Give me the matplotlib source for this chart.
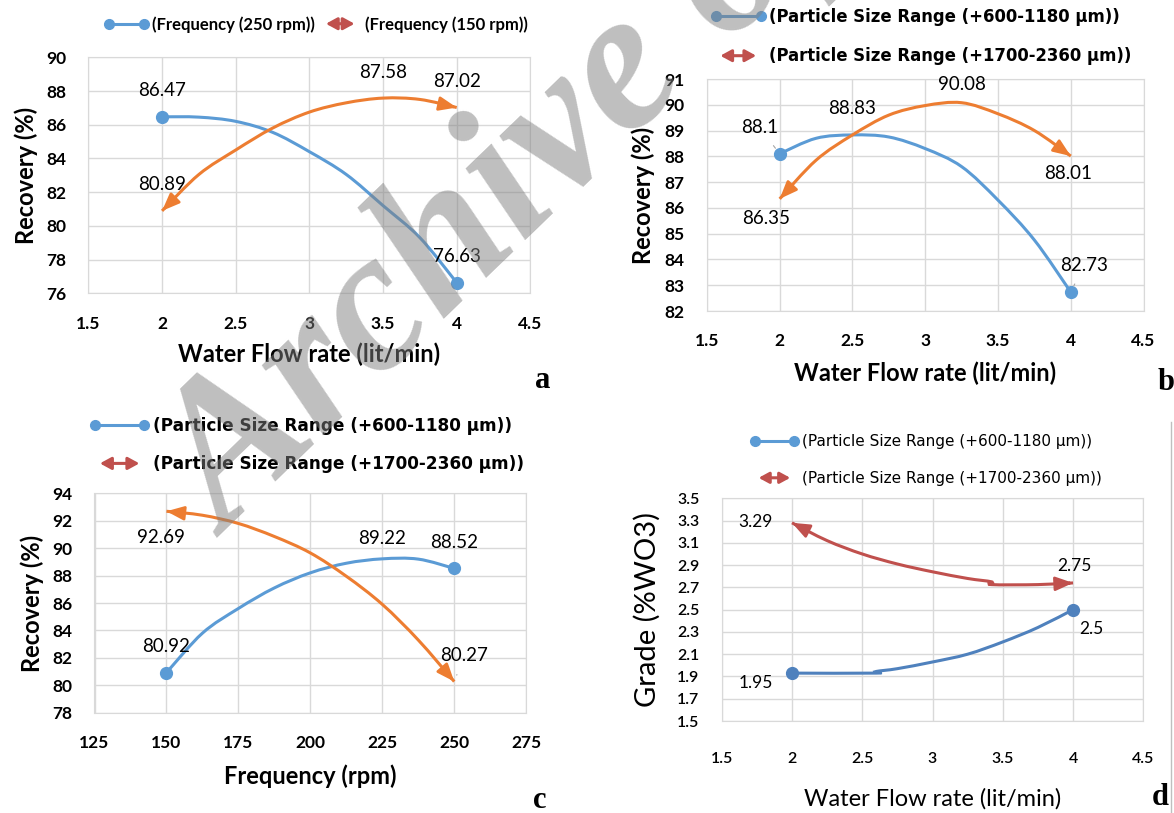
import matplotlib
matplotlib.use('Agg')
import matplotlib.pyplot as plt
from matplotlib.lines import Line2D
from matplotlib.patches import FancyArrowPatch, PathPatch
from matplotlib.path import Path
from matplotlib.legend_handler import HandlerBase

# ---- data ----
a_x = [2, 2.25, 2.5, 2.75, 3, 3.25, 3.5, 3.75, 4]
a_250 = [86.47, 86.45, 86.2, 85.55, 84.4, 83.05, 81.2, 79.3, 76.63]
a_150 = [80.89, 83.05, 84.5, 85.8, 86.75, 87.3, 87.58, 87.5, 87.02]
a_labels_250 = [(2, 86.47), (4, 76.63)]
a_labels_150 = [(2, 80.89), (3.5, 87.58), (4, 87.02)]

b_x = [2, 2.25, 2.5, 2.75, 3, 3.25, 3.5, 3.75, 4]
b_fine = [88.1, 88.7, 88.83, 88.75, 88.3, 87.6, 86.3, 84.75, 82.73]
b_coarse = [86.35, 87.85, 88.83, 89.6, 89.97, 90.08, 89.65, 89.0, 88.01]
b_labels_fine = [(2, 88.1), (2.5, 88.83), (4, 82.73)]
b_labels_coarse = [(2, 86.35), (3.25, 90.08), (4, 88.01)]

c_x = [150, 162.5, 175, 187.5, 200, 212.5, 225, 237.5, 250]
c_fine = [80.92, 83.8, 85.6, 87.1, 88.2, 88.9, 89.22, 89.2, 88.52]
c_coarse = [92.69, 92.4, 91.8, 90.85, 89.65, 87.95, 85.9, 83.3, 80.27]
c_labels_fine = [(150, 80.92), (225, 89.22), (250, 88.52)]
c_labels_coarse = [(150, 92.69), (250, 80.27)]

d_x_fine = [2, 2.6, 2.6, 2.75, 3, 3.25, 3.5, 3.75, 4]
d_fine = [1.93, 1.93, 1.945, 1.97, 2.03, 2.1, 2.21, 2.34, 2.5]
d_x_coarse = [2, 2.25, 2.5, 2.75, 3, 3.25, 3.42, 3.42, 3.75, 4]
d_coarse = [3.28, 3.12, 3.0, 2.91, 2.84, 2.78, 2.75, 2.725, 2.725, 2.74]
d_labels_fine = [(2, 1.95), (4, 2.5)]
d_labels_coarse = [(2, 3.29), (4, 2.75)]

flow_ticks = [1.5, 2, 2.5, 3, 3.5, 4, 4.5]
freq_ticks = [125, 150, 175, 200, 225, 250, 275]
a_yticks = [76, 78, 80, 82, 84, 86, 88, 90]
b_yticks = [82, 83, 84, 85, 86, 87, 88, 89, 90, 91]
c_yticks = [78, 80, 82, 84, 86, 88, 90, 92, 94]
d_yticks = [1.5, 1.7, 1.9, 2.1, 2.3, 2.5, 2.7, 2.9, 3.1, 3.3, 3.5]

leg_freq = ['(Frequency (250 rpm))', '(Frequency (150 rpm))']
leg_size = ['(Particle Size Range (+600-1180 \u00b5m))',
            '(Particle Size Range (+1700-2360 \u00b5m))']

BLUE = '#5B9BD5'
BLUE_D = '#4F81BD'
ORANGE = '#ED7D31'
RED = '#C0504D'
GRID = '#D9D9D9'
FONT = 'Lato'

W, H = 1174, 813
fig = plt.figure(figsize=(W / 100, H / 100), dpi=100)


def fx(px):
    return px / W


def fy(py):
    return 1 - py / H


class HandlerDoubleArrow(HandlerBase):
    def create_artists(self, legend, orig_handle, xdescent, ydescent,
                       width, height, fontsize, trans):
        y = height / 2 - ydescent
        p = FancyArrowPatch((-xdescent + 0.12 * width, y), (-xdescent + 0.88 * width, y),
                            arrowstyle='<|-|>,head_length=0.55,head_width=0.3',
                            mutation_scale=fontsize, color=orig_handle.get_color(),
                            lw=2.2, transform=trans)
        return [p]


def make_axes(l, t, r, b, xticks, yticks, weight='bold', size=12.5):
    ax = fig.add_axes([fx(l), fy(b), fx(r) - fx(l), fy(t) - fy(b)])
    ax.grid(True, color=GRID, lw=1)
    ax.set_axisbelow(True)
    for s in ax.spines.values():
        s.set_color(GRID)
    ax.tick_params(length=0, pad=16)
    ax.set_xlim(xticks[0], xticks[-1])
    ax.set_ylim(yticks[0], yticks[-1])
    ax.set_xticks(xticks, labels=[f'{v:g}' for v in xticks],
                  fontweight=weight, family=FONT, fontsize=size)
    ax.set_yticks(yticks, labels=[f'{v:g}' for v in yticks],
                  fontweight=weight, family=FONT, fontsize=size)
    return ax


def smooth(x, y):
    # Catmull-Rom through the read points, as Bezier segments
    pts = list(zip(x, y))
    verts = [pts[0]]
    codes = [Path.MOVETO]
    n = len(pts)
    for i in range(n - 1):
        p0 = pts[max(i - 1, 0)]
        p1 = pts[i]
        p2 = pts[i + 1]
        p3 = pts[min(i + 2, n - 1)]
        c1 = (p1[0] + (p2[0] - p0[0]) / 6, p1[1] + (p2[1] - p0[1]) / 6)
        c2 = (p2[0] - (p3[0] - p1[0]) / 6, p2[1] - (p3[1] - p1[1]) / 6)
        verts += [c1, c2, p2]
        codes += [Path.CURVE4] * 3
    return Path(verts, codes)


def arrow_head(ax, tip, prev, color):
    back = (tip[0] - 0.12 * (tip[0] - prev[0]), tip[1] - 0.12 * (tip[1] - prev[1]))
    ax.annotate('', xy=tip, xytext=back,
                arrowprops=dict(arrowstyle='-|>,head_length=0.7,head_width=0.28',
                                color=color, lw=2, mutation_scale=15,
                                shrinkA=0, shrinkB=0),
                zorder=3)


def curve(ax, x, y, color, markers=True):
    ax.add_patch(PathPatch(smooth(x, y), fill=False, edgecolor=color, lw=2.2,
                           capstyle='butt', transform=ax.transData, zorder=3))
    if markers:
        ax.plot([x[0], x[-1]], [y[0], y[-1]], ls='none', marker='o',
                markersize=8.5, color=color, zorder=4)
    else:
        arrow_head(ax, (x[-1], y[-1]), (x[-2], y[-2]), color)
        arrow_head(ax, (x[0], y[0]), (x[1], y[1]), color)


def label(ax, pt, dx, dy, size=13.5, leader=False):
    x, y = pt
    kw = {}
    if leader:
        kw['arrowprops'] = dict(arrowstyle='-', color='#A6A6A6', lw=0.8,
                                shrinkA=6, shrinkB=5)
    ax.annotate(f'{y:g}', xy=(x, y), xytext=(dx, dy), textcoords='offset pixels',
                ha='center', va='center', fontsize=size, family=FONT,
                color='black', zorder=5, **kw)


def legend(ax, labels, left, top, ncol, handlelen, family, size, weight='bold',
           spacing=1.0, textpad=0.2):
    h1 = Line2D([], [], color=BLUE, lw=2.2, marker='o', markersize=7)
    h2 = Line2D([], [], color=RED)
    ax.legend([h1, h2], labels, loc='upper left',
              bbox_to_anchor=(fx(left), fy(top)), bbox_transform=fig.transFigure,
              ncol=ncol, frameon=False, numpoints=2, handlelength=handlelen,
              handletextpad=textpad, columnspacing=0.2, labelspacing=spacing,
              borderpad=0, borderaxespad=0,
              handler_map={h2: HandlerDoubleArrow()},
              prop=dict(family=family, size=size, weight=weight))


def axis_labels(ax, xl, yl, xpad=10, ypad=10, weight='bold', xsize=17, ysize=17):
    ax.set_xlabel(xl, fontsize=xsize, fontweight=weight, family=FONT, labelpad=xpad)
    ax.set_ylabel(yl, fontsize=ysize, fontweight=weight, family=FONT, labelpad=ypad)


# ---- panel a ----
ax = make_axes(88.4, 57.3, 530.4, 293.3, flow_ticks, a_yticks)
curve(ax, a_x, a_250, BLUE)
curve(ax, a_x, a_150, ORANGE, markers=False)
for p in a_labels_250 + a_labels_150:
    label(ax, p, 0, 26)
axis_labels(ax, 'Water Flow rate (lit/min)', 'Recovery (%)', xpad=8, ypad=6)
legend(ax, leg_freq, 104, 16, 2, 2.7, FONT, 12, textpad=0.15)

# ---- panel b ----
ax = make_axes(706.9, 79, 1143.6, 311, flow_ticks, b_yticks)
curve(ax, b_x, b_fine, BLUE)
curve(ax, b_x, b_coarse, ORANGE, markers=False)
label(ax, b_labels_fine[0], -20, 26, leader=True)
label(ax, b_labels_fine[1], 0, 26)
label(ax, b_labels_fine[2], 13, 27, leader=True)
label(ax, b_labels_coarse[0], -14, -20)
label(ax, b_labels_coarse[1], 0, 18)
label(ax, b_labels_coarse[2], -3, -17)
axis_labels(ax, 'Water Flow rate (lit/min)', 'Recovery (%)', xpad=9, ypad=7)
legend(ax, leg_size, 711, 8, 1, 3.3, 'DejaVu Sans', 11.9, spacing=1.3)

# ---- panel c ----
ax = make_axes(94.5, 493.3, 526.2, 712.7, freq_ticks, c_yticks)
curve(ax, c_x, c_fine, BLUE)
curve(ax, c_x, c_coarse, ORANGE, markers=False)
label(ax, c_labels_fine[0], 0, 26)
label(ax, c_labels_fine[1], 0, 20)
label(ax, c_labels_fine[2], 0, 26)
label(ax, c_labels_coarse[0], -6, -26)
label(ax, c_labels_coarse[1], 10, 26, leader=True)
axis_labels(ax, 'Frequency (rpm)', 'Recovery (%)', xpad=10, ypad=6)
legend(ax, leg_size, 90, 417, 1, 3.5, 'DejaVu Sans', 12.2, spacing=1.2)

# ---- panel d ----
ax = make_axes(721.7, 498.3, 1143.3, 721, flow_ticks, d_yticks,
               weight='semibold', size=11.5)
ax.tick_params(axis='x', pad=22)
curve(ax, d_x_fine, d_fine, BLUE_D)
curve(ax, d_x_coarse, d_coarse, RED, markers=False)
label(ax, d_labels_fine[0], -36, -12, size=12.5)
label(ax, d_labels_fine[1], 18, -19, size=12.5)
label(ax, d_labels_coarse[0], -36, 0, size=12.5)
label(ax, d_labels_coarse[1], 1, 16, size=12.5)
axis_labels(ax, 'Water Flow rate (lit/min)', 'Grade (%WO3)', xpad=16, ypad=12,
            weight='normal', ysize=21)
legend(ax, leg_size, 750, 434, 1, 3.2, 'DejaVu Sans', 11, weight='normal',
       spacing=1.45)

# ---- panel letters ----
for ch, px, py in [('a', 543, 380), ('b', 1166, 382), ('c', 540, 800), ('d', 1160, 797)]:
    fig.text(fx(px), fy(py), ch, fontsize=22, fontweight='bold',
             family='Liberation Serif', ha='center', va='center')

fig.add_artist(Line2D([fx(1171), fx(1171)], [fy(422), 0], color='#BFBFBF', lw=1))

# ---- watermark ----
fig.text(fx(228), fy(538), 'Archive of SID', rotation=44, rotation_mode='anchor',
         ha='left', va='baseline', fontsize=145, family='Liberation Serif',
         style='italic', fontweight='bold', color='#808080', alpha=0.5, zorder=10)

fig.savefig('out.png', dpi=100)
